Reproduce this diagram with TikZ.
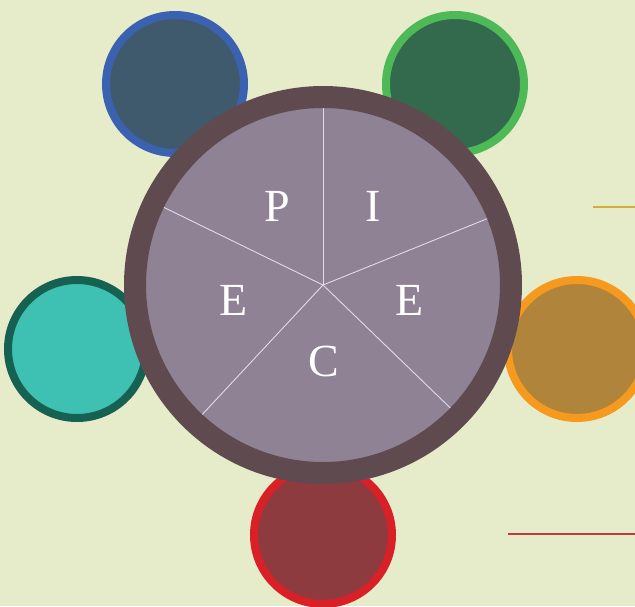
\documentclass[tikz,border=0pt]{standalone}
\usepackage{fontspec}
\setmainfont{Liberation Serif}
\usepackage{xcolor}
\usepackage{tikz}
\usetikzlibrary{positioning,calc}
\definecolor{paper}{HTML}{E6ECC9}
\definecolor{ringbrown}{HTML}{5F4A50}
\definecolor{piegray}{HTML}{8E8294}
\definecolor{sliceline}{HTML}{E2DAEA}
\definecolor{blueedge}{HTML}{3A62B0}
\definecolor{bluefill}{HTML}{405A6D}
\definecolor{greenedge}{HTML}{4DB957}
\definecolor{greenfill}{HTML}{33694C}
\definecolor{tealedge}{HTML}{176152}
\definecolor{tealfill}{HTML}{3EC1B2}
\definecolor{orangeedge}{HTML}{F59A1E}
\definecolor{orangefill}{HTML}{B0843A}
\definecolor{rededge}{HTML}{D92027}
\definecolor{redfill}{HTML}{8E3B40}
\definecolor{goldline}{HTML}{D9AA3C}
\definecolor{redline}{HTML}{C23A3C}

\begin{document}
\begin{tikzpicture}[
    x=1pt, y=-1pt,
    bubble/.style={circle, inner sep=0pt, outer sep=0pt, minimum size=138pt, line width=8pt},
    wheel/.style={circle, inner sep=0pt, outer sep=0pt, minimum size=376pt, line width=22pt, draw=ringbrown, fill=piegray},
    slice/.style={draw=sliceline, line width=0.9pt, shorten >=11pt},
    letter/.style={text=white, font=\fontsize{46}{46}\selectfont}
]
\useasboundingbox[fill=paper] (0,0) rectangle (635,606);

% outer bubbles
\node[bubble, draw=blueedge, fill=bluefill] (dotblue) at (175,84) {};
\node[bubble, draw=greenedge, fill=greenfill] (dotgreen) at (455,84) {};
\node[bubble, draw=tealedge, fill=tealfill] (dotteal) at (77,349) {};
\node[bubble, draw=orangeedge, fill=orangefill] (dotorange) at (577,349) {};
\node[bubble, draw=rededge, fill=redfill] (dotred) at (323,535) {};

% central wheel
\node[wheel] (pie) at (323,285) {};
\draw[slice] (pie.center) -- (pie.90);
\draw[slice] (pie.center) -- (pie.154);
\draw[slice] (pie.center) -- (pie.227);
\draw[slice] (pie.center) -- (pie.316);
\draw[slice] (pie.center) -- (pie.22);

\node[letter] (lp) at (277,206) {P};
\node[letter] (li) at (373,206) {I};
\node[letter] (lel) at (234,300) {E};
\node[letter] (ler) at (410,300) {E};
\node[letter] (lc) at (324,361) {C};

% side strokes
\coordinate (goldA) at (593,207);
\coordinate (goldB) at (635,207);
\coordinate (redA) at (508,534);
\coordinate (redB) at (635,534);
\draw[goldline, line width=2pt] (goldA) -- (goldB);
\draw[redline, line width=1.6pt] (redA) -- (redB);
\end{tikzpicture}
\end{document}
